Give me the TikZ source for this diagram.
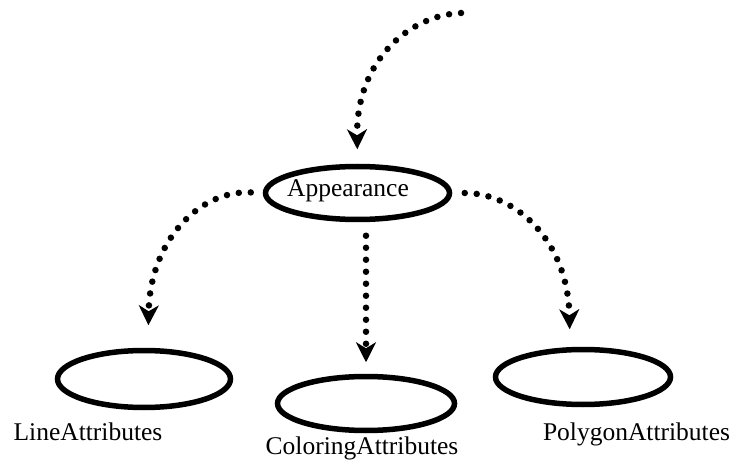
\documentclass[tikz,border=0pt]{standalone}
\usepackage{fontspec}
\setmainfont{Liberation Serif}
\usetikzlibrary{arrows.meta,shapes.geometric,calc}
\begin{document}
\begin{tikzpicture}[x=1pt,y=-1pt,
  ell/.style={draw=black,line width=5.5pt,ellipse,inner sep=0pt},
  lbl/.style={anchor=base,inner sep=0pt,font=\fontsize{25.5}{30}\selectfont},
  dotarrow/.style={line width=6.5pt,line cap=round,dash pattern=on 0pt off 12pt,
    -{Stealth[length=20pt,width=20pt,inset=6pt,line width=2.5pt]}}]
\useasboundingbox (0,0) rectangle (734,465);
% ellipses
\node[ell,minimum width=184pt,minimum height=53pt] (app) at (357.5,193) {};
\node[ell,minimum width=173pt,minimum height=57pt] (line) at (144,379) {};
\node[ell,minimum width=177pt,minimum height=54pt] (col) at (366,403.5) {};
\node[ell,minimum width=175pt,minimum height=55pt] (poly) at (583,377) {};
% labels
\node[lbl] (apptext) at (348,197) {Appearance};
\node[lbl] (linetext) at (88,440) {LineAttributes};
\node[lbl] (coltext) at (362,454) {ColoringAttributes};
\node[lbl] (polytext) at (636.5,440) {PolygonAttributes};
% connectors
\coordinate (src) at (461,13);
\draw[dotarrow,shorten >=14.5pt] (src) .. controls (410,15) and (356,60) .. (app.north);
\draw[dotarrow,shorten <=12pt,shorten >=22.5pt] (app.west) .. controls (200,190) and (150,240) .. ($(line.north)+(4,0)$);
\draw[dotarrow,shorten <=13.5pt,shorten >=11.5pt] (app.south -| col.north) -- (col.north);
\draw[dotarrow,shorten <=12.5pt,shorten >=17.5pt] (app.east) .. controls (515,193) and (568,240) .. ($(poly.north)+(-13,0)$);
\end{tikzpicture}
\end{document}
